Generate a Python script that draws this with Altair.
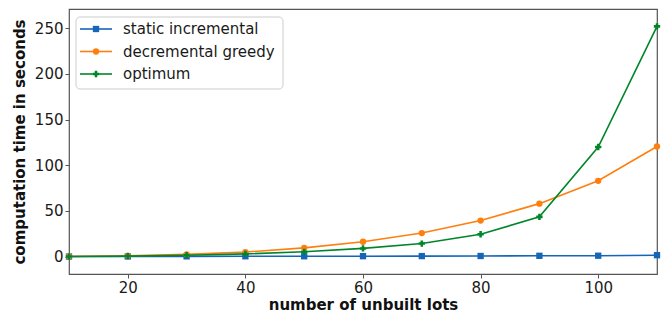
import altair as alt
import pandas as pd

lots = [10, 20, 30, 40, 50, 60, 70, 80, 90, 100, 110]
static_incremental = [0.1, 0.2, 0.3, 0.4, 0.4, 0.5, 0.6, 0.7, 0.9, 1.0, 1.6]
decremental_greedy = [0.2, 1.0, 2.5, 5.0, 9.6, 16.3, 25.8, 39.5, 58.0, 83.0, 120.5]
optimum = [0.1, 0.6, 1.5, 3.0, 5.3, 9.0, 14.3, 24.5, 43.5, 120.0, 252.0]

series_names = ["static incremental", "decremental greedy", "optimum"]
series_values = [static_incremental, decremental_greedy, optimum]
colors = ["#1565b8", "#ff7f0e", "#00862a"]
marker_shapes = ["square", "circle", "cross"]
x_ticks = [20, 40, 60, 80, 100]
y_ticks = [0, 50, 100, 150, 200, 250]

rows = []
for name, vals in zip(series_names, series_values):
    for x, v in zip(lots, vals):
        rows.append({"lots": x, "time": v, "series": name})
df = pd.DataFrame(rows)
legend_df = pd.DataFrame({"series": series_names})

FONT = "DejaVu Sans"
FS = 15

x_enc = alt.X("lots:Q", scale=alt.Scale(domain=[10, 110], nice=False, zero=False),
              axis=alt.Axis(values=x_ticks, title="number of unbuilt lots"))
y_enc = alt.Y("time:Q", scale=alt.Scale(domain=[-19, 271], nice=False, zero=False),
              axis=alt.Axis(values=y_ticks, title="computation time in seconds"))

color_scale = alt.Scale(domain=series_names, range=colors)

lines = alt.Chart(df).mark_line(strokeWidth=1.6).encode(
    x=x_enc, y=y_enc,
    color=alt.Color("series:N", scale=color_scale, legend=None),
    detail="series:N",
)

layers = [lines]
for name, shp in zip(series_names, marker_shapes):
    layers.append(
        alt.Chart(df).transform_filter(alt.datum.series == name)
        .mark_point(filled=True, opacity=1, size=40, shape=shp)
        .encode(x=x_enc, y=y_enc,
                color=alt.Color("series:N", scale=color_scale, legend=None))
    )

# legend box (matplotlib-style, upper left, inside the plot)
box_df = pd.DataFrame({"k": [0]})
layers.append(
    alt.Chart(box_df).mark_rect(fill="white", stroke="#cccccc", strokeWidth=1,
                                cornerRadius=4).encode(
        x=alt.value(7), x2=alt.value(214), y=alt.value(8), y2=alt.value(80))
)
row_y = [20, 42.5, 65]
for name, shp, ry in zip(series_names, marker_shapes, row_y):
    src = alt.Chart(legend_df).transform_filter(alt.datum.series == name)
    layers.append(src.mark_rule(strokeWidth=1.6).encode(
        x=alt.value(11), x2=alt.value(43), y=alt.value(ry),
        color=alt.Color("series:N", scale=color_scale, legend=None)))
    layers.append(src.mark_point(filled=True, opacity=1, size=40, shape=shp).encode(
        x=alt.value(27), y=alt.value(ry),
        color=alt.Color("series:N", scale=color_scale, legend=None)))
    layers.append(src.mark_text(align="left", baseline="middle", font=FONT,
                                fontSize=FS, color="#1a1a1a").encode(
        x=alt.value(54), y=alt.value(ry), text="series:N"))

chart = alt.layer(*layers).properties(
    width=588, height=265,
    autosize=alt.AutoSizeParams(type="none"),
    padding={"left": 61, "top": 1, "right": 5, "bottom": 40},
).configure_view(
    stroke="#555555", strokeWidth=1.2
).configure_axis(
    grid=False, domain=False,
    labelFont=FONT, labelFontSize=FS, labelColor="#1a1a1a",
    titleFont=FONT, titleFontSize=FS, titleFontWeight="bold", titleColor="#111111",
    tickColor="#555555", tickSize=4, tickWidth=1, labelPadding=2,
).configure_axisY(
    titlePadding=7,
).configure_axisX(
    titlePadding=2,
)

chart.save("out.html", embed_options={"renderer": "svg", "actions": False})
